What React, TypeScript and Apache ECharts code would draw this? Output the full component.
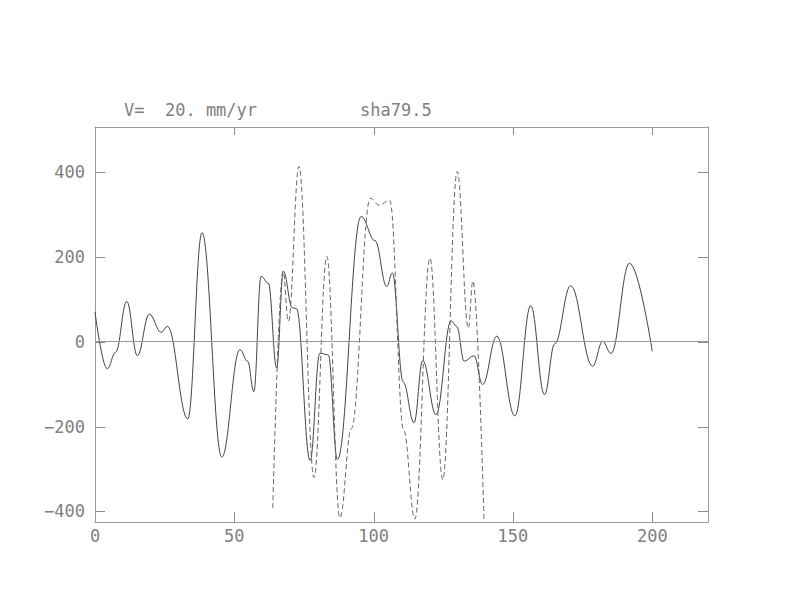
import React, { useEffect, useRef } from "react";
import * as echarts from "echarts";

const titleLeft = "V=  20. mm/yr";
const titleRight = "sha79.5";

const xTicks = [0, 50, 100, 150, 200];
const yTicks = [-400, -200, 0, 200, 400];

const solidX = [0, 4.4, 7.4, 11.4, 15.2, 19.5, 23.7, 26, 33.3, 38.4, 45.5, 52, 54.8, 57, 59.6, 62.2, 65.2, 67.6, 70.8, 72.3, 77.2, 80.7, 83.7, 87, 95.5, 100.5, 104.7, 106.7, 110.6, 114.5, 117.6, 122.4, 127.8, 129.8, 132.5, 136, 139.1, 144.2, 150.7, 156.4, 161.3, 165, 170.7, 178.6, 182.2, 185.2, 191.8, 200];
const solidY = [70, -64, -25, 95, -33, 65, 22, 36, -182, 257, -272, -19, -46, -118, 154, 138, -62, 166, 80, 78, -280, -27, -31, -278, 295, 238, 130, 162, -95, -191, -44, -172, 49, 36, -46, -33, -101, 13, -175, 85, -125, -5, 132, -58, 1, -28, 185, -23];

const dashX = [63.8, 67.5, 69.4, 73.2, 78.6, 83.2, 87.9, 92, 98.8, 101.9, 105.8, 110.8, 114.8, 120.2, 124.8, 130, 134, 135.6, 139.6];
const dashY = [-392, 166, 48, 413, -320, 201, -415, -205, 338, 322, 333, -210, -418, 197, -325, 401, 32, 143, -420];

const FONT = "DejaVu Sans Mono";
const AX = "#999";
const TXT = "#808080";

const X_MIN = 0, X_MAX = 220, Y_MIN = -425, Y_MAX = 506;
const G_LEFT = 95, G_TOP = 127, G_RIGHT = 84, G_BOTTOM = 90;

export default function App() {
  const ref = useRef<HTMLDivElement>(null);
  useEffect(() => {
    if (!ref.current) return;
    const chart = echarts.init(ref.current, undefined, { renderer: "svg" });
    const fmtX = (v: number) => (xTicks.includes(v) ? String(v) : "");
    const fmtY = (v: number) => (yTicks.includes(v) ? (v < 0 ? "\u2212" + Math.abs(v) : String(v)) : "");
    const mkLine = () => ({ show: true, onZero: false, lineStyle: { color: AX, width: 1 } });
    chart.setOption({
      animation: false,
      backgroundColor: "#fff",
      grid: { left: G_LEFT, top: G_TOP, right: G_RIGHT, bottom: G_BOTTOM, show: false },
      xAxis: [
        {
          type: "value", position: "bottom", min: X_MIN, max: X_MAX, interval: 50,
          axisLine: mkLine(),
          axisTick: { show: false },
          axisLabel: { margin: 5, color: TXT, fontFamily: FONT, fontSize: 17, formatter: fmtX },
          splitLine: { show: false },
        },
        {
          type: "value", position: "top", min: X_MIN, max: X_MAX, interval: 50,
          axisLine: mkLine(),
          axisTick: { show: false },
          axisLabel: { show: false },
          splitLine: { show: false },
        },
      ],
      yAxis: [
        {
          type: "value", position: "left", min: Y_MIN, max: Y_MAX, splitNumber: 5,
          axisLine: mkLine(),
          axisTick: { show: false },
          axisLabel: { margin: 10, color: TXT, fontFamily: FONT, fontSize: 17, formatter: fmtY },
          splitLine: { show: false },
        },
        {
          type: "value", position: "right", min: Y_MIN, max: Y_MAX, splitNumber: 5,
          axisLine: mkLine(),
          axisTick: { show: false },
          axisLabel: { show: false },
          splitLine: { show: false },
        },
      ],
      series: [
        {
          type: "line",
          data: solidX.map((x, i) => [x, solidY[i]]),
          smooth: 0.4,
          smoothMonotone: "x",
          showSymbol: false,
          symbol: "none",
          lineStyle: { color: "#444", width: 1 },
          markLine: {
            silent: true,
            symbol: ["none", "none"],
            label: { show: false },
            lineStyle: { color: AX, type: "solid", width: 1 },
            data: [{ yAxis: 0 }],
          },
        },
        {
          type: "line",
          data: dashX.map((x, i) => [x, dashY[i]]),
          smooth: 0.4,
          smoothMonotone: "x",
          showSymbol: false,
          symbol: "none",
          lineStyle: { color: "#666", width: 1, type: [5, 3] },
        },
      ],
    });

    // Tick marks placed through the chart's own scales
    const toPx = (x: number, y: number) => chart.convertToPixel({ gridIndex: 0 }, [x, y]) as number[];
    const ticks: any[] = [];
    const style = { stroke: "#8c8c8c", lineWidth: 1 };
    const bottomY = toPx(X_MIN, Y_MIN)[1];
    const topY = toPx(X_MIN, Y_MAX)[1];
    const leftX = toPx(X_MIN, 0)[0];
    const rightX = toPx(X_MAX, 0)[0];
    xTicks.filter((v) => v > X_MIN && v < X_MAX).forEach((v) => {
      const px = Math.round(toPx(v, 0)[0]) + 0.5;
      ticks.push({ type: "line", silent: true, shape: { x1: px, y1: bottomY, x2: px, y2: bottomY - 10 }, style });
      ticks.push({ type: "line", silent: true, shape: { x1: px, y1: topY, x2: px, y2: topY + 8 }, style });
    });
    yTicks.forEach((v) => {
      const py = Math.round(toPx(0, v)[1]) + 0.5;
      ticks.push({ type: "line", silent: true, shape: { x1: leftX, y1: py, x2: leftX + 10, y2: py }, style });
      ticks.push({ type: "line", silent: true, shape: { x1: rightX, y1: py, x2: rightX - 10, y2: py }, style });
    });
    chart.setOption({
      graphic: [
        { type: "text", left: 124, top: 101, style: { text: titleLeft, font: `17px "${FONT}"`, fill: TXT } },
        { type: "text", left: 360, top: 101, style: { text: titleRight, font: `17px "${FONT}"`, fill: TXT } },
        ...ticks,
      ],
    });
    return () => chart.dispose();
  }, []);
  return <div ref={ref} style={{ position: "fixed", left: 0, top: 0, width: 792, height: 612, background: "#fff" }} />;
}
